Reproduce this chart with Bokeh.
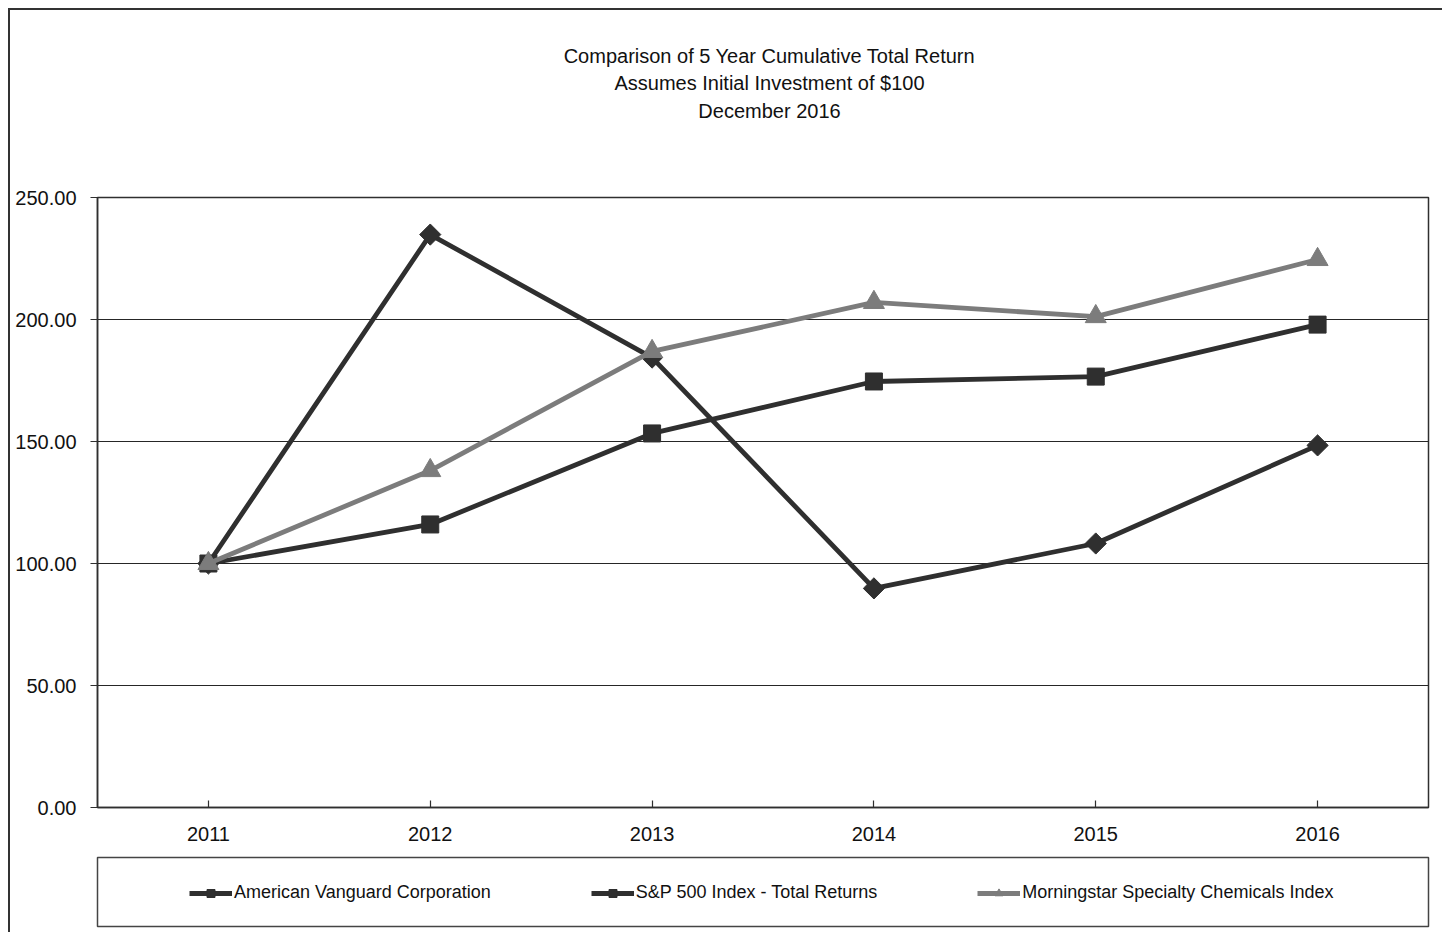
import math
from bokeh.plotting import figure
from bokeh.layouts import column
from bokeh.models import (FactorRange, Range1d, FixedTicker, NumeralTickFormatter,
                          Legend, LegendItem, Label)
from bokeh.embed import file_html
from bokeh.resources import INLINE

years = ["2011", "2012", "2013", "2014", "2015", "2016"]
american_vanguard = [100.00, 234.8, 184.4, 89.8, 108.2, 148.4]
sp500 = [100.00, 116.0, 153.3, 174.6, 176.6, 197.9]
morningstar = [100.00, 138.1, 186.9, 207.0, 201.2, 224.6]
y_ticks = [0, 50, 100, 150, 200, 250]
title_lines = ["Comparison of 5 Year Cumulative Total Return",
               "Assumes Initial Investment of $100",
               "December 2016"]
series_names = ["American Vanguard Corporation", "S&P 500 Index - Total Returns",
                "Morningstar Specialty Chemicals Index"]

FONT = "Liberation Sans"
DARK = "#2f2f2f"
GRAY = "#7c7c7c"
TXT = "#111111"
W = 1432


def bare(fig):
    fig.xgrid.visible = False
    fig.ygrid.visible = False
    fig.outline_line_color = None
    return fig


# ---- title block ----
t = bare(figure(width=W, height=175, output_backend="svg", toolbar_location=None,
                x_axis_type=None, y_axis_type=None, title=None,
                min_border_left=0, min_border_right=0, min_border_top=0,
                min_border_bottom=0))
for i, line in enumerate(title_lines):
    t.add_layout(Label(x=672, y=130 - 27.5 * i, x_units="screen", y_units="screen",
                       text=line, text_align="center", text_baseline="middle",
                       text_font=FONT, text_font_size="20px", text_color=TXT))

# ---- main chart ----
p = figure(x_range=FactorRange(factors=years, range_padding=0),
           y_range=Range1d(0, 250),
           width=W, height=665, output_backend="svg", toolbar_location=None,
           title=None, min_border_left=85, min_border_right=12,
           min_border_top=12, min_border_bottom=43)
p.background_fill_color = "white"
p.outline_line_color = DARK
p.outline_line_width = 1.5

p.yaxis.ticker = FixedTicker(ticks=y_ticks)
p.yaxis.formatter = NumeralTickFormatter(format="0.00")
p.yaxis.major_tick_out = 7
p.yaxis.major_tick_in = 0
p.yaxis.minor_tick_out = 0
p.yaxis.minor_tick_in = 0
p.yaxis.major_label_standoff = 14
for ax in (p.xaxis, p.yaxis):
    ax.major_label_text_font = FONT
    ax.major_label_text_font_size = "20px"
    ax.major_label_text_color = TXT
    ax.axis_line_color = DARK
    ax.axis_line_width = 1.5
    ax.major_tick_line_color = DARK
    ax.major_tick_line_width = 1.2
p.xaxis.major_tick_in = 7
p.xaxis.major_tick_out = 0
p.xaxis.major_label_standoff = 19

p.xgrid.grid_line_color = None
p.ygrid.grid_line_color = "#262626"
p.ygrid.grid_line_width = 1

def draw_series(fig):
    r1 = fig.line(years, american_vanguard, line_color=DARK, line_width=4.8)
    m1 = fig.scatter(years, american_vanguard, marker="square", angle=math.pi / 4,
                     size=15, fill_color=DARK, line_color=DARK)
    r2 = fig.line(years, sp500, line_color=DARK, line_width=4.8)
    m2 = fig.scatter(years, sp500, marker="square", size=17,
                     fill_color=DARK, line_color=DARK)
    r3 = fig.line(years, morningstar, line_color=GRAY, line_width=4.8)
    m3 = fig.scatter(years, morningstar, marker="triangle", size=21,
                     fill_color=GRAY, line_color=GRAY)
    return [(r1, m1), (r2, m2), (r3, m3)]

draw_series(p)

# ---- legend block (its frame outline is the legend box) ----
lg = figure(x_range=FactorRange(factors=years, range_padding=0),
            y_range=Range1d(1000, 1001),
            width=W, height=82, output_backend="svg", toolbar_location=None,
            x_axis_type=None, y_axis_type=None, title=None,
            min_border_left=87, min_border_right=14, min_border_top=7,
            min_border_bottom=6)
lg.xgrid.visible = False
lg.ygrid.visible = False
lg.outline_line_color = "#444444"
lg.outline_line_width = 1.5
proxies = draw_series(lg)

legend = Legend(items=[LegendItem(label=name, renderers=list(rs))
                       for name, rs in zip(series_names, proxies)],
                orientation="horizontal", location=(92, 23),
                label_text_font=FONT, label_text_font_size="18px",
                label_text_color=TXT, glyph_width=43, glyph_height=20,
                label_standoff=2, spacing=100, padding=10, margin=0,
                border_line_color=None, background_fill_alpha=0)
lg.add_layout(legend, "center")

page = column(t, p, lg, spacing=0)
page.styles = {"border-left": "2px solid #333333", "border-top": "2px solid #333333",
               "margin-left": "8px", "margin-top": "8px"}

open("out.html", "w").write(file_html(page, INLINE))
